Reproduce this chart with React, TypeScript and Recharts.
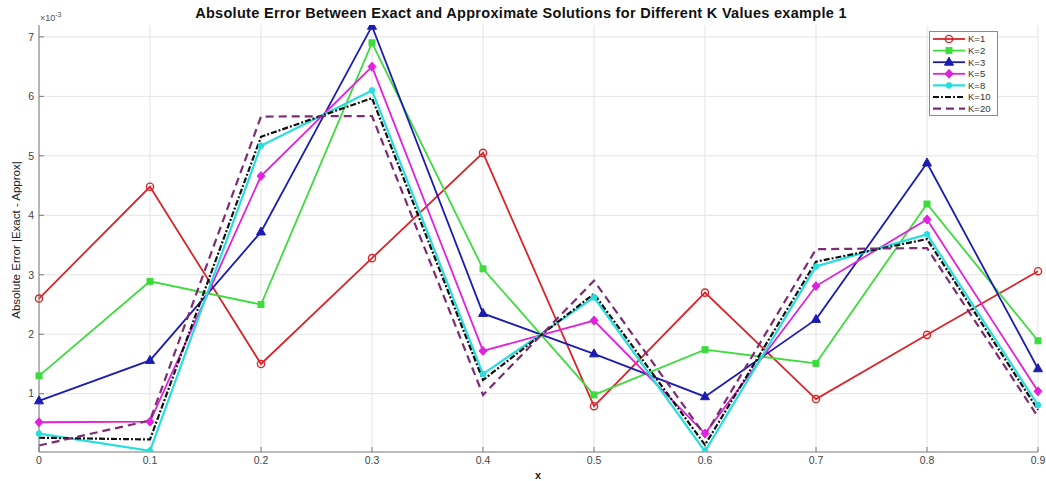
import React from 'react';
import { LineChart, Line, XAxis, YAxis, CartesianGrid } from 'recharts';

const xs = [0, 0.1, 0.2, 0.3, 0.4, 0.5, 0.6, 0.7, 0.8, 0.9];
// absolute error, in units of 1e-3
const k1 = [2.6, 4.48, 1.5, 3.28, 5.05, 0.79, 2.7, 0.91, 1.99, 3.06];
const k2 = [1.3, 2.89, 2.5, 6.9, 3.1, 0.98, 1.74, 1.51, 4.19, 1.89];
const k3 = [0.88, 1.56, 3.72, 7.18, 2.35, 1.67, 0.95, 2.25, 4.88, 1.42];
const k5 = [0.52, 0.53, 4.66, 6.5, 1.72, 2.23, 0.33, 2.81, 3.93, 1.04];
const k8 = [0.33, 0.04, 5.17, 6.1, 1.33, 2.62, 0.03, 3.14, 3.68, 0.81];
const k10 = [0.26, 0.23, 5.32, 5.97, 1.23, 2.68, 0.14, 3.22, 3.6, 0.73];
const k20 = [0.13, 0.55, 5.66, 5.67, 0.98, 2.9, 0.3, 3.43, 3.45, 0.61];

const xTicks = [0, 0.1, 0.2, 0.3, 0.4, 0.5, 0.6, 0.7, 0.8, 0.9];
const yTicks = [1, 2, 3, 4, 5, 6, 7];

const data = xs.map((x, i) => ({
  x,
  k1: k1[i], k2: k2[i], k3: k3[i], k5: k5[i], k8: k8[i], k10: k10[i], k20: k20[i],
}));

type Shape = 'circle' | 'square' | 'triangle' | 'diamond' | 'dot' | 'none';

const series: { key: string; name: string; color: string; width: number; dash?: string; shape: Shape }[] = [
  { key: 'k1', name: 'K=1', color: '#d8262b', width: 1.8, shape: 'circle' },
  { key: 'k2', name: 'K=2', color: '#3ddc3d', width: 1.8, shape: 'square' },
  { key: 'k3', name: 'K=3', color: '#1c1cb0', width: 1.8, shape: 'triangle' },
  { key: 'k5', name: 'K=5', color: '#e022e0', width: 1.8, shape: 'diamond' },
  { key: 'k8', name: 'K=8', color: '#26dede', width: 2.2, shape: 'dot' },
  { key: 'k10', name: 'K=10', color: '#111111', width: 2.2, dash: '6 2 2 2', shape: 'none' },
  { key: 'k20', name: 'K=20', color: '#7b2c72', width: 2.2, dash: '8 5', shape: 'none' },
];

const FONT = '"Liberation Sans", Arial, sans-serif';

const Marker = ({ cx, cy, shape, color }: { cx: number; cy: number; shape: Shape; color: string }) => {
  if (cx == null || cy == null) return null;
  switch (shape) {
    case 'circle':
      return <circle cx={cx} cy={cy} r={3.6} fill="none" stroke={color} strokeWidth={1.4} />;
    case 'square':
      return <rect x={cx - 3} y={cy - 3} width={6} height={6} fill={color} stroke={color} />;
    case 'triangle':
      return <polygon points={`${cx},${cy - 5} ${cx - 4.5},${cy + 3} ${cx + 4.5},${cy + 3}`} fill={color} stroke={color} />;
    case 'diamond':
      return <polygon points={`${cx},${cy - 4.5} ${cx + 4},${cy} ${cx},${cy + 4.5} ${cx - 4},${cy}`} fill={color} stroke={color} />;
    case 'dot':
      return <circle cx={cx} cy={cy} r={2.8} fill={color} stroke={color} />;
    default:
      return null;
  }
};

const LegendBox = () => (
  <svg width={70} height={86} style={{ position: 'absolute', left: 929, top: 31 }}>
    <rect x={0.5} y={0.5} width={68} height={84} fill="#fff" stroke="#8a8a8a" />
    {series.map((s, i) => {
      const y = 8 + i * 11.6;
      return (
        <g key={s.key}>
          <line x1={4} x2={36} y1={y} y2={y} stroke={s.color} strokeWidth={s.width} strokeDasharray={s.dash} />
          <Marker cx={20} cy={y} shape={s.shape} color={s.color} />
          <text x={39} y={y + 3.3} fontSize={9.5} fill="#333" fontFamily={FONT}>{s.name}</text>
        </g>
      );
    })}
  </svg>
);

export default function App() {
  return (
    <div style={{ position: 'absolute', left: 0, top: 0, width: 1046, height: 481, background: '#fff', fontFamily: FONT }}>
      <LineChart width={1046} height={481} data={data} margin={{ top: 25, right: 8, left: 9, bottom: 0 }}>
        <CartesianGrid stroke="#e4e4e4" strokeWidth={1} horizontalValues={yTicks} verticalValues={xTicks} />
        <XAxis
          dataKey="x"
          type="number"
          domain={[0, 0.9]}
          ticks={xTicks}
          interval={0}
          height={29}
          stroke="#7a7a7a"
          tickSize={-5}
          tickMargin={10}
          tick={{ fontSize: 10.5, fill: '#444', fontFamily: FONT }}
          tickFormatter={(v: number) => String(Math.round(v * 10) / 10)}
        />
        <XAxis xAxisId="top" orientation="top" type="number" domain={[0, 0.9]} ticks={xTicks} height={0} stroke="#7a7a7a" tickSize={-5} tick={false} />
        <YAxis
          type="number"
          domain={[0.02, 7.2]}
          allowDataOverflow
          ticks={yTicks}
          interval={0}
          width={30}
          stroke="#7a7a7a"
          tickSize={-5}
          tickMargin={10}
          tick={{ fontSize: 10.5, fill: '#444', fontFamily: FONT }}
        />
        <YAxis yAxisId="right" orientation="right" type="number" domain={[0.02, 7.2]} ticks={yTicks} width={0} stroke="#7a7a7a" tickSize={-5} tick={false} />
        {series.map((s) => (
          <Line
            key={s.key}
            dataKey={s.key}
            name={s.name}
            type="linear"
            stroke={s.color}
            strokeWidth={s.width}
            strokeDasharray={s.dash}
            isAnimationActive={false}
            dot={s.shape === 'none' ? false : (p: any) => (
              <g key={`${s.key}-${p.index}`}>
                <Marker cx={p.cx} cy={p.cy} shape={s.shape} color={s.color} />
              </g>
            )}
          />
        ))}
      </LineChart>
      <svg width={1046} height={481} style={{ position: 'absolute', left: 0, top: 0, pointerEvents: 'none' }}>
        <text x={521} y={18} textAnchor="middle" fontSize={14.5} fontWeight="bold" letterSpacing={0.3} fill="#111" fontFamily={FONT}>
          Absolute Error Between Exact and Approximate Solutions for Different K Values example 1
        </text>
        <text x={40} y={21} fontSize={9} fill="#555" fontFamily={FONT}>
          ×10<tspan dy={-4} fontSize={7}>-3</tspan>
        </text>
        <text x={20} y={240} transform="rotate(-90 20 240)" textAnchor="middle" fontSize={11.5} fill="#222" fontFamily={FONT}>
          Absolute Error |Exact - Approx|
        </text>
        <text x={538} y={479} textAnchor="middle" fontSize={11} fontWeight="bold" fill="#222" fontFamily={FONT}>
          x
        </text>
      </svg>
      <LegendBox />
    </div>
  );
}
